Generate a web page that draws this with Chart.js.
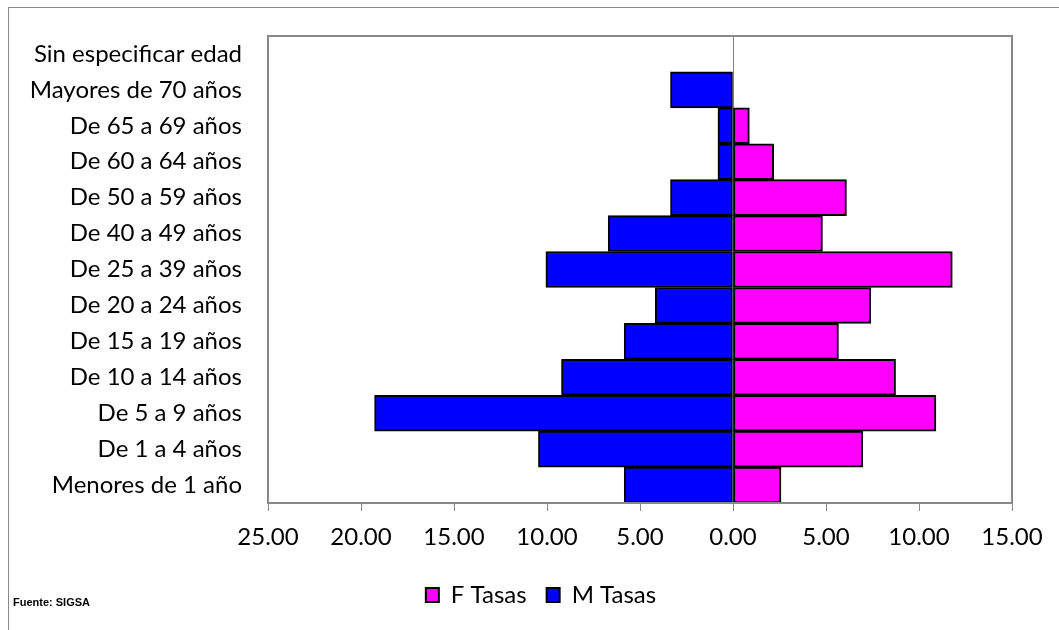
<!DOCTYPE html>
<html>
<head>
<meta charset="utf-8">
<script src="https://cdn.jsdelivr.net/npm/chart.js@4.4.1/dist/chart.umd.min.js"></script>
<style>
  html, body { margin: 0; padding: 0; background: #fff; }
  #wrap { position: relative; width: 1059px; height: 630px; }
  #frame { position: absolute; left: 8px; top: 7px; right: -2px; bottom: -2px;
           border-left: 1px solid #888; border-top: 1px solid #888; }
  #fuente { position: absolute; left: 13px; top: 596px; font: bold 11px "Liberation Sans", Arial, sans-serif; }
</style>
</head>
<body>
<div id="wrap">
  <div id="frame"></div>
  <canvas id="chart" width="1059" height="630"></canvas>
  <div id="fuente">Fuente: SIGSA</div>
</div>
<script>
// Grupos de edad, de arriba hacia abajo
var edades = ['Sin especificar edad', 'Mayores de 70 años', 'De 65 a 69 años', 'De 60 a 64 años',
  'De 50 a 59 años', 'De 40 a 49 años', 'De 25 a 39 años', 'De 20 a 24 años', 'De 15 a 19 años',
  'De 10 a 14 años', 'De 5 a 9 años', 'De 1 a 4 años', 'Menores de 1 año'];

// Tasas por sexo
var fTasas = [0, 0, 0.88, 2.19, 6.10, 4.81, 11.79, 7.41, 5.67, 8.74, 10.91, 6.98, 2.58];
var mTasas = [0, 3.36, 0.81, 0.81, 3.36, 6.71, 10.06, 4.18, 5.85, 9.22, 19.27, 10.46, 5.85];

// Marcas del eje X
var xTicks = [-25, -20, -15, -10, -5, 0, 5, 10, 15];

var font = 'Lato';

// Borde gris del área de trazado, eje vertical en cero y leyenda desplazada
var areaPlugin = {
  id: 'areaPlugin',
  afterLayout: function (chart) {
    chart.legend.left += 35;
    chart.legend.right += 35;
  },
  beforeDatasetsDraw: function (chart) {
    var ctx = chart.ctx, a = chart.chartArea;
    var x0 = chart.scales.x.getPixelForValue(0);
    ctx.save();
    ctx.strokeStyle = '#808080';
    ctx.lineWidth = 1;
    ctx.beginPath();
    ctx.moveTo(Math.round(x0) + 0.5, a.top);
    ctx.lineTo(Math.round(x0) + 0.5, a.bottom);
    ctx.stroke();
    ctx.restore();
  },
  afterDatasetsDraw: function (chart) {
    var ctx = chart.ctx, a = chart.chartArea;
    ctx.save();
    ctx.strokeStyle = '#888888';
    ctx.lineWidth = 2;
    ctx.strokeRect(a.left, a.top, a.right - a.left, a.bottom - a.top);
    ctx.restore();
  }
};

new Chart(document.getElementById('chart'), {
  type: 'bar',
  data: {
    labels: edades,
    datasets: [
      {
        label: 'F Tasas',
        data: fTasas,
        backgroundColor: '#FF00FF',
        borderColor: '#000000',
        borderWidth: 2,
        borderSkipped: false
      },
      {
        label: 'M Tasas',
        data: mTasas.map(function (v) { return -v; }),
        backgroundColor: '#0000FF',
        borderColor: '#000000',
        borderWidth: 2,
        borderSkipped: false
      }
    ]
  },
  options: {
    indexAxis: 'y',
    responsive: false,
    animation: false,
    categoryPercentage: 1.0,
    barPercentage: 1.0,
    layout: { padding: { top: 36, right: 47, left: 0, bottom: 13 } },
    plugins: {
      tooltip: { enabled: false },
      legend: {
        position: 'bottom',
        labels: {
          font: { family: font, size: 24 },
          color: '#000',
          boxWidth: 13,
          boxHeight: 14,
          padding: 20
        }
      }
    },
    scales: {
      x: {
        stacked: true,
        min: -25,
        max: 15,
        afterBuildTicks: function (scale) {
          scale.ticks = xTicks.map(function (v) { return { value: v }; });
        },
        afterFit: function (scale) { scale.height = 60; },
        grid: { drawOnChartArea: false, drawTicks: true, tickLength: 8, color: '#888888' },
        border: { display: false },
        ticks: {
          color: '#000',
          font: { family: font, size: 24 },
          padding: 12,
          maxRotation: 0,
          callback: function (v) { return Math.abs(v).toFixed(2); }
        }
      },
      y: {
        stacked: true,
        afterFit: function (scale) { scale.width = 268; },
        // sin líneas; el largo de marca sólo separa las etiquetas del área
        grid: { display: false, drawTicks: true, tickLength: 26 },
        border: { display: false },
        ticks: {
          color: '#000',
          font: { family: font, size: 24 },
          padding: 0,
          autoSkip: false
        }
      }
    }
  },
  plugins: [areaPlugin]
});
</script>
</body>
</html>
